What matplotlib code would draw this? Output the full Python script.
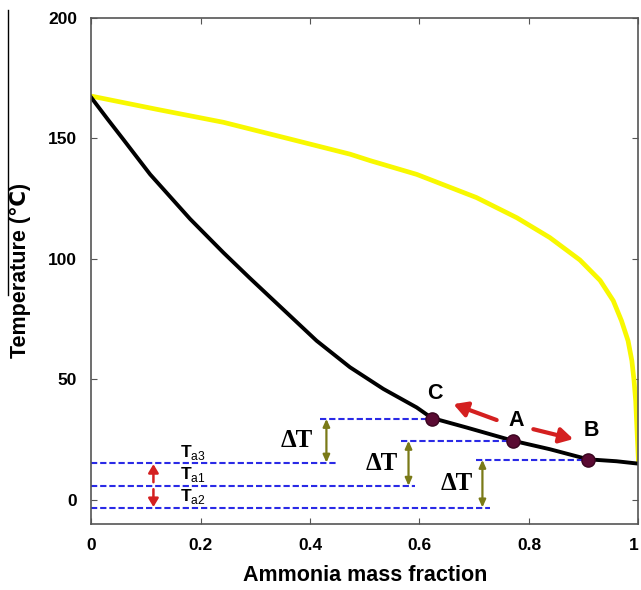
import matplotlib.pyplot as plt
from matplotlib.lines import Line2D

# %% Daten
# Siedelinie (schwarz)
x_bubble = [0, 0.03, 0.059, 0.108, 0.181, 0.242, 0.29, 0.351, 0.412,
            0.473, 0.534, 0.595, 0.622, 0.686, 0.771, 0.838, 0.908, 0.96, 1.0]
t_bubble = [167, 158, 149.5, 135, 116.5, 102.5, 92, 79, 66,
            55, 46, 38.3, 34, 30, 24.5, 21, 16.8, 16, 15]

# Taulinie (gelb)
x_dew = [0, 0.12, 0.242, 0.363, 0.473, 0.51, 0.595, 0.704, 0.778, 0.838,
         0.893, 0.93, 0.954, 0.969, 0.981, 0.988, 0.992, 0.995, 1.0]
t_dew = [167.5, 162, 156.6, 149.7, 143.4, 140.7, 135, 125.4, 117, 108.8,
         99.5, 91, 82.6, 74.3, 66, 57.7, 49.4, 41, 16]

# Betriebspunkte C, A, B
pt_names = ['C', 'A', 'B']
pt_x = [0.622, 0.771, 0.908]
pt_t = [33.5, 24.5, 16.6]

# Umgebungstemperaturen Ta3, Ta1, Ta2
ta_names = ['a3', 'a1', 'a2']
ta_t = [15.2, 5.8, -3.2]
ta_xend = [0.449, 0.592, 0.729]

# Linien zu den Punkten (Start x)
pt_xstart = [0.418, 0.567, 0.703]

x_ticks = [0, 0.2, 0.4, 0.6, 0.8, 1]
x_ticklabels = ['0', '0.2', '0.4', '0.6', '0.8', '1']
y_ticks = [0, 50, 100, 150, 200]


# %% Visualisierung
plt.rcParams['font.family'] = ['Liberation Sans', 'DejaVu Sans']
plt.rcParams['mathtext.fontset'] = 'custom'
plt.rcParams['mathtext.rm'] = 'Liberation Sans'
plt.rcParams['mathtext.bf'] = 'Liberation Sans:bold'

fig = plt.figure(figsize=(6.41, 5.9), dpi=100)
ax = fig.add_axes([0.142, 0.112, 0.854, 0.858])

ax.plot(x_dew, t_dew, color='#f8f800', linewidth=3.4, solid_capstyle='round',
        solid_joinstyle='round')
ax.plot(x_bubble, t_bubble, color='black', linewidth=2.8,
        solid_joinstyle='round')

blue = '#2a2ae6'
dash = (0, (3, 1.4))
for t, xe in zip(ta_t, ta_xend):
    ax.plot([0, xe], [t, t], color=blue, linewidth=1.5, linestyle=dash)
for xs, x, t in zip(pt_xstart, pt_x, pt_t):
    ax.plot([xs, x], [t, t], color=blue, linewidth=1.5, linestyle=dash)

ax.plot(pt_x, pt_t, 'o', color='#5a0a32', markersize=9.5,
        markeredgecolor='#3a0520', zorder=5)
for name, x, t, dx, dy in zip(pt_names, pt_x, pt_t,
                              [0.006, 0.005, 0.006], [10.5, 8.3, 12]):
    ax.text(x + dx, t + dy, name, fontsize=15.5, fontweight='bold',
            ha='center', va='center')

# Rote Pfeile A -> C und A -> B
red = '#d42020'
ax.annotate('', xy=(0.662, 39.7), xytext=(0.741, 33.1),
            arrowprops=dict(arrowstyle='-|>,head_length=0.8,head_width=0.45',
                            color=red, linewidth=3.0, shrinkA=0, shrinkB=0))
ax.annotate('', xy=(0.881, 25.2), xytext=(0.808, 29.3),
            arrowprops=dict(arrowstyle='-|>,head_length=0.8,head_width=0.45',
                            color=red, linewidth=3.0, shrinkA=0, shrinkB=0))

# Rote Pfeile Ta
ax.annotate('', xy=(0.114, 14.8), xytext=(0.114, 7.3),
            arrowprops=dict(arrowstyle='-|>,head_length=0.5,head_width=0.3',
                            color=red, linewidth=1.8, shrinkA=0, shrinkB=0))
ax.annotate('', xy=(0.114, -3.0), xytext=(0.114, 4.4),
            arrowprops=dict(arrowstyle='-|>,head_length=0.5,head_width=0.3',
                            color=red, linewidth=1.8, shrinkA=0, shrinkB=0))

for name, t in zip(ta_names, ta_t):
    ax.text(0.163, t + 4.5, r'$\mathbf{T}_{\mathrm{%s}}$' % name,
            fontsize=12.5, ha='left', va='center')

# Delta T Pfeile (oliv)
olive = '#7a7a18'
dt_x = [0.43, 0.58, 0.715]
dt_lo = [15.4, 5.8, -3.2]
dt_hi = [33.6, 24.5, 16.6]
dt_lab_x = [0.376, 0.531, 0.668]
for x, lo, hi, lx in zip(dt_x, dt_lo, dt_hi, dt_lab_x):
    ax.annotate('', xy=(x, hi), xytext=(x, lo),
                arrowprops=dict(arrowstyle='<|-|>,head_length=0.45,head_width=0.2',
                                color=olive, linewidth=1.6,
                                shrinkA=0, shrinkB=0))
    ax.text(lx, (lo + hi) / 2, 'ΔT', family='Liberation Serif',
            fontsize=18, fontweight='bold', ha='center', va='center')

ax.set_xlim(0, 1)
ax.set_ylim(-10, 200)
ax.set_xticks(x_ticks)
ax.set_xticklabels(x_ticklabels)
ax.set_yticks(y_ticks)
ax.tick_params(direction='in', top=True, right=True, length=4,
               color='#555555', labelsize=12.5, pad=10)
for lab in ax.get_xticklabels() + ax.get_yticklabels():
    lab.set_fontweight('bold')
ax.get_xticklabels()[-1].set_ha('right')
for sp in ax.spines.values():
    sp.set_color('#555555')
    sp.set_linewidth(1.2)

ax.set_xlabel('Ammonia mass fraction', fontsize=15.5, fontweight='bold',
              labelpad=9)
ax.set_ylabel('Temperature (℃)', fontsize=15.5, fontweight='bold',
              labelpad=12)

fig.add_artist(Line2D([8 / 641, 8 / 641], [580 / 590, 295 / 590],
                      color='black', linewidth=1.0))

fig.savefig('out.png', dpi=100)
